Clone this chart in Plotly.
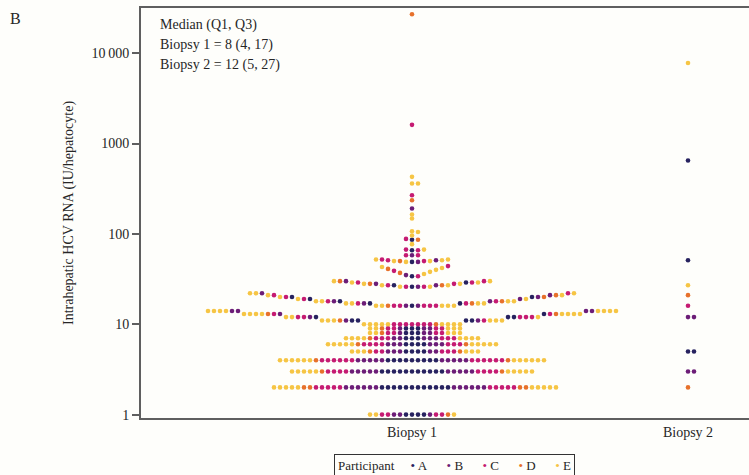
import numpy as np
import plotly.graph_objects as go

# ---------------------------------------------------------------------------
# Intrahepatic HCV RNA per hepatocyte, one dot per cell-level measurement.
# Each participant is stored as (value, count) pairs for each biopsy.
# ---------------------------------------------------------------------------
PARTICIPANTS = ["A", "B", "C", "D", "E"]
COLORS = ["#27225f", "#6c1d77", "#c51b72", "#e7712b", "#f6c544"]

# Biopsy 1
b1_A_val = [1, 2, 3, 4, 5, 6, 7, 8, 9, 11, 12, 13, 16, 17, 18, 19, 20, 26, 27, 29, 34, 49, 66, 86]
b1_A_cnt = [4, 12, 11, 9, 4, 4, 3, 3, 3, 4, 3, 1, 1, 2, 1, 1, 2, 1, 1, 1, 1, 1, 1, 1]

b1_B_val = [1, 2, 3, 4, 5, 6, 7, 8, 9, 11, 12, 13, 14, 16, 17, 18, 19, 20, 21, 22, 26, 27, 28, 30,
            35, 49, 51, 58, 191]
b1_B_cnt = [3, 12, 10, 10, 5, 6, 5, 3, 3, 2, 1, 1, 4, 2, 1, 2, 1, 1, 1, 1, 1, 1, 1, 1,
            1, 1, 1, 1, 1]

b1_C_val = [1, 2, 3, 4, 5, 6, 7, 8, 9, 10, 11, 12, 13, 16, 17, 18, 19, 20, 21, 22, 26, 27, 28, 29,
            30, 34, 39, 44, 50, 51, 52, 58, 66, 67, 88, 268, 1610]
b1_C_cnt = [4, 10, 8, 12, 5, 7, 6, 4, 4, 7, 1, 5, 2, 5, 2, 2, 1, 1, 1, 1, 2, 1, 1, 2,
            1, 1, 1, 1, 1, 1, 1, 2, 1, 1, 1, 1, 1]

b1_D_val = [1, 2, 3, 4, 5, 6, 7, 8, 9, 10, 11, 13, 16, 17, 18, 20, 21, 27, 28, 30, 37, 41, 50, 86,
            236, 27000]
b1_D_cnt = [1, 4, 2, 2, 2, 2, 1, 1, 1, 1, 1, 2, 1, 1, 1, 1, 1, 1, 1, 1, 1, 1, 1, 1,
            1, 1]

b1_E_val = [1, 2, 3, 4, 5, 6, 7, 8, 9, 10, 11, 12, 13, 14, 16, 17, 18, 19, 20, 21, 22, 26, 27, 28,
            29, 30, 36, 38, 40, 42, 43, 49, 50, 51, 52, 67, 77, 96, 105, 107, 148, 164, 361, 428]
b1_E_cnt = [3, 10, 10, 12, 6, 10, 8, 5, 5, 9, 6, 3, 8, 8, 5, 4, 4, 2, 1, 2, 3, 2, 2, 2,
            2, 2, 1, 1, 1, 1, 1, 1, 2, 1, 2, 1, 1, 1, 1, 1, 1, 1, 2, 1]

# Biopsy 2
b2_A_val = [5, 51, 650]
b2_A_cnt = [2, 1, 1]
b2_B_val = [3, 12]
b2_B_cnt = [2, 2]
b2_C_val = [16]
b2_C_cnt = [1]
b2_D_val = [2, 21]
b2_D_cnt = [1, 1]
b2_E_val = [27, 7800]
b2_E_cnt = [1, 1]

CATEGORIES = ["Biopsy 1", "Biopsy 2"]
SUMMARY_LINES = ["Median (Q1, Q3)", "Biopsy 1 = 8 (4, 17)", "Biopsy 2 = 12 (5, 27)"]

biopsy_data = {
    0: [(b1_A_val, b1_A_cnt), (b1_B_val, b1_B_cnt), (b1_C_val, b1_C_cnt),
        (b1_D_val, b1_D_cnt), (b1_E_val, b1_E_cnt)],
    1: [(b2_A_val, b2_A_cnt), (b2_B_val, b2_B_cnt), (b2_C_val, b2_C_cnt),
        (b2_D_val, b2_D_cnt), (b2_E_val, b2_E_cnt)],
}

# ---------------------------------------------------------------------------
# Layout geometry (pixels) used both for the figure and for the swarm packing
# ---------------------------------------------------------------------------
W, H = 749, 475
M_L, M_R, M_T, M_B = 141, 0, 8, 57
PLOT_W = W - M_L - M_R
PLOT_H = H - M_T - M_B
X_RANGE = [0.0181, 2.2210]
Y_RANGE = [-0.0376, 4.5]            # log10 units
PX_PER_DECADE = PLOT_H / (Y_RANGE[1] - Y_RANGE[0])
PX_PER_XUNIT = PLOT_W / (X_RANGE[1] - X_RANGE[0])
SLOT_PX = 6.0                       # horizontal spacing between neighbouring dots
NEIGHBOUR_PX = 4.0                  # vertical distance within which dots push each other out
SLOT_X = SLOT_PX / PX_PER_XUNIT


def swarm_slots(values, groups):
    """Beeswarm packing: dots sorted by value (then participant) are placed just
    outside the dots that lie within NEIGHBOUR_PX of them vertically."""
    ypx = np.log10(values) * PX_PER_DECADE
    order = np.lexsort((groups, values))
    placed_y, placed_s = [], []
    slots = np.zeros(len(values), dtype=int)
    for i in order:
        occ = [s for yy, s in zip(placed_y, placed_s) if abs(yy - ypx[i]) < NEIGHBOUR_PX]
        pos = [s for s in occ if s >= 0]
        neg = [s for s in occ if s <= 0]
        right = max(pos) + 1 if pos else 0
        left = min(neg) - 1 if neg else 0
        s = right if abs(right) <= abs(left) else left
        slots[i] = s
        placed_y.append(ypx[i])
        placed_s.append(s)
    return slots


xs = {p: [] for p in range(5)}
ys = {p: [] for p in range(5)}
for cat, series in biopsy_data.items():
    vals, grps = [], []
    for p, (v, c) in enumerate(series):
        expanded = np.repeat(np.asarray(v, dtype=float), c)
        vals.append(expanded)
        grps.append(np.full(len(expanded), p))
    vals = np.concatenate(vals)
    grps = np.concatenate(grps)
    slots = swarm_slots(vals, grps)
    xpos = (cat + 1) + slots * SLOT_X
    for p in range(5):
        m = grps == p
        xs[p].extend(xpos[m].tolist())
        ys[p].extend(vals[m].tolist())

FONT = "Liberation Serif"
TEXT = "#262626"
AXIS = "#5f5f5f"

fig = go.Figure()
for p in range(5):
    fig.add_trace(go.Scatter(
        x=xs[p], y=ys[p], mode="markers", name=PARTICIPANTS[p],
        marker=dict(color=COLORS[p], size=4.6, line=dict(width=0)),
        showlegend=False,
    ))

fig.update_layout(
    width=W, height=H,
    margin=dict(l=M_L, r=M_R, t=M_T, b=M_B),
    paper_bgcolor="#fefefb", plot_bgcolor="#fefefb",
    font=dict(family=FONT, size=14, color=TEXT),
    xaxis=dict(
        range=X_RANGE, tickvals=[1, 2], ticktext=CATEGORIES, ticks="",
        showgrid=False, zeroline=False, showline=True, mirror=True,
        linecolor=AXIS, linewidth=2, tickfont=dict(size=14),
    ),
    yaxis=dict(
        type="log", range=Y_RANGE,
        tickvals=[1, 10, 100, 1000, 10000],
        ticktext=["1", "10", "100", "1000", "10\u2009000"],
        ticks="outside", ticklen=7, tickwidth=1.5, tickcolor=AXIS,
        showgrid=False, zeroline=False, showline=True, mirror=False,
        linecolor=AXIS, linewidth=2, tickfont=dict(size=14),
        title=dict(text="Intrahepatic HCV RNA (IU/hepatocyte)",
                   font=dict(size=14), standoff=14),
    ),
)

# panel letter
fig.add_annotation(x=(15 - M_L) / PLOT_W, y=1 - (18 - M_T) / PLOT_H, xref="paper", yref="paper",
                   text="B", showarrow=False, xanchor="center", yanchor="middle",
                   font=dict(size=16))

# summary statistics
for k, (line, ypix) in enumerate(zip(SUMMARY_LINES, [25, 45.5, 65])):
    fig.add_annotation(x=(158 - M_L) / PLOT_W, y=1 - (ypix - M_T) / PLOT_H,
                       xref="paper", yref="paper", text=line, showarrow=False,
                       xanchor="left", yanchor="middle", font=dict(size=14))

# participant key
gap = "&nbsp;" * 6
key_parts = []
for p in range(5):
    key_parts.append(f"<span style='color:{COLORS[p]}'>\u2022</span> {PARTICIPANTS[p]}")
key_text = "Participant" + "&nbsp;" * 5 + gap.join(key_parts)
fig.add_annotation(x=(454 - M_L) / PLOT_W, y=1 - (465 - M_T) / PLOT_H,
                   xref="paper", yref="paper", text=key_text, showarrow=False,
                   xanchor="center", yanchor="middle", font=dict(size=13),
                   bordercolor="#333333", borderwidth=1, borderpad=3)

fig.write_html("out.html")
